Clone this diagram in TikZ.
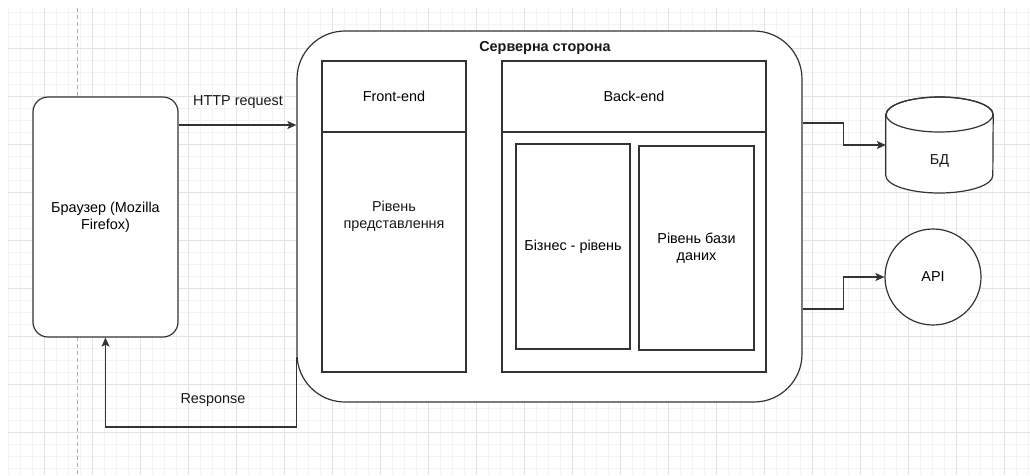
\documentclass[tikz,border=0pt]{standalone}
\usepackage{fontspec}
\setmainfont{Liberation Sans}
\usetikzlibrary{arrows.meta,calc}

\definecolor{ink}{HTML}{333333}
\definecolor{gridmajor}{HTML}{E3E3E3}
\definecolor{gridminor}{HTML}{F3F3F3}
\definecolor{guide}{HTML}{B0B0B0}

\begin{document}
\begin{tikzpicture}[
  x=1pt, y=-1pt,
  font=\fontsize{14.4}{17}\selectfont,
  box/.style={draw=ink, line width=1.2pt, fill=white, inner sep=0pt, align=center},
  roundbox/.style={box, rounded corners=15pt},
  txt/.style={inner sep=0pt, align=center, text=black!90},
  arr/.style={draw=ink, line width=1.2pt, -{Stealth[length=9pt,width=8pt,inset=2pt]}},
  gmin/.style={draw=gridminor, line width=0.8pt},
  gmaj/.style={draw=gridmajor, line width=0.9pt}
]
\useasboundingbox (0,0) rectangle (1030,475);
\fill[white] (0,0) rectangle (1030,475);

% background grid
\foreach \gx in {8,20,...,1028} \draw[gmin] (\gx,8) -- (\gx,475);
\foreach \gy in {12,24,...,468} \draw[gmin] (8,\gy) -- (1030,\gy);
\foreach \gx in {44,92,...,1004} \draw[gmaj] (\gx,8) -- (\gx,475);
\foreach \gy in {48,96,...,432} \draw[gmaj] (8,\gy) -- (1030,\gy);
\draw[guide, line width=0.8pt, dash pattern=on 4pt off 3pt] (77,8) -- (77,475);

% client
\node[roundbox, minimum width=145, minimum height=240] (browser) at (105.5,217)
  {Браузер (Mozilla\\Firefox)};

% server side container
\node[box, rounded corners=48pt, minimum width=505, minimum height=371] (server) at (549.5,216.5) {};
\node[txt, font=\fontsize{14.4}{17}\selectfont\bfseries] (title) at (545,48) {Серверна сторона};

% front-end column
\node[box, minimum width=144, minimum height=71] (fehead) at (394,96.5) {Front-end};
\node[box, minimum width=144, minimum height=240] (febody) at (394,252) {};
\node[txt] (felabel) at (394,216) {Рівень\\представлення};

% back-end column
\node[box, minimum width=264, minimum height=71] (behead) at (634,96.5) {Back-end};
\node[box, minimum width=264, minimum height=240] (bebody) at (634,252) {};
\node[box, minimum width=114, minimum height=205] (biz) at (573,246.5) {Бізнес - рівень};
\node[box, minimum width=115, minimum height=204] (dblayer) at (696.5,248) {Рівень бази\\даних};

% database cylinder
\node[minimum width=107, minimum height=96, inner sep=0pt] (db) at (939.5,145) {};
\draw[ink, line width=1.2pt, fill=white]
  (db.west |- 0,114.5) -- (db.west |- 0,175.5)
  arc[start angle=180, end angle=360, x radius=53.5pt, y radius=17.5pt]
  -- (db.east |- 0,114.5)
  arc[start angle=0, end angle=180, x radius=53.5pt, y radius=17.5pt] -- cycle;
\draw[ink, line width=1.2pt] (939.5,114.5) ellipse [x radius=53.5pt, y radius=17.5pt];
\node[txt] (dblabel) at (939.5,161) {БД};

% external API
\node[box, circle, minimum size=96] (api) at (933,277) {API};

% connectors
\draw[arr] ([yshift=92pt]browser.east) coordinate (req) -- (req -| server.west);
\node[txt] (reqlabel) at (238,102) {HTTP request};

\draw[arr] ([yshift=-140.5pt]server.west) -- ++(0,70) -| (browser.south);
\node[txt] (resplabel) at (213,400) {Response};

\draw[arr] ([yshift=93.5pt]server.east) -- ++(41,0) |- (db.west);
\draw[arr] ([yshift=-92.5pt]server.east) -- ++(41,0) |- (api.west);
\end{tikzpicture}
\end{document}
